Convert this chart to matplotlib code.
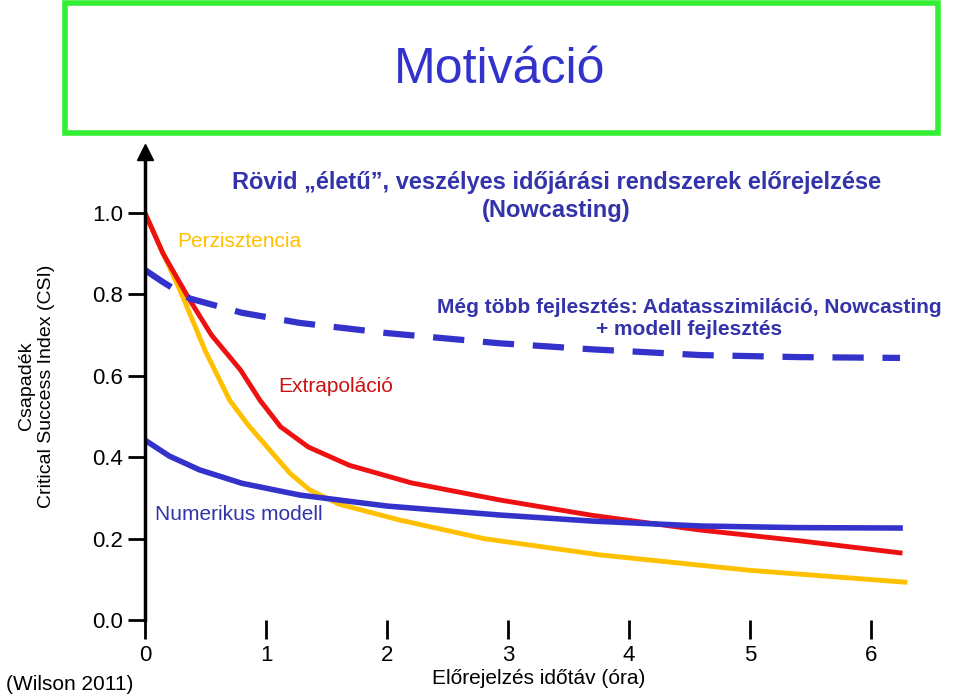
import matplotlib.pyplot as plt
from matplotlib.patches import Rectangle

plt.rcParams['font.family'] = 'Liberation Sans'

red_x = [0, 0.15, 0.37, 0.55, 0.79, 0.95, 1.12, 1.35, 1.69, 2.2, 2.93, 3.7, 4.59, 5.4, 6.24]
red_y = [1.0, 0.9, 0.786, 0.70, 0.614, 0.54, 0.475, 0.425, 0.38, 0.337, 0.295, 0.257, 0.221, 0.195, 0.165]
yel_x = [0, 0.12, 0.29, 0.5, 0.70, 0.85, 1.03, 1.2, 1.36, 1.6, 2.1, 2.8, 3.76, 5.0, 6.28]
yel_y = [1.0, 0.92, 0.81, 0.66, 0.54, 0.48, 0.418, 0.36, 0.32, 0.285, 0.246, 0.2, 0.16, 0.122, 0.093]
num_x = [0, 0.2, 0.45, 0.8, 1.28, 2.0, 2.93, 3.7, 4.59, 5.4, 6.24]
num_y = [0.442, 0.403, 0.369, 0.336, 0.307, 0.28, 0.258, 0.243, 0.231, 0.227, 0.226]
dash_x = [0, 0.15, 0.37, 0.8, 1.28, 2.0, 2.93, 3.7, 4.59, 5.4, 6.24]
dash_y = [0.86, 0.83, 0.79, 0.755, 0.73, 0.705, 0.68, 0.665, 0.651, 0.646, 0.644]
yticks = [0.0, 0.2, 0.4, 0.6, 0.8, 1.0]
xticks = [0, 1, 2, 3, 4, 5, 6]

fig = plt.figure(figsize=(9.6, 6.99), dpi=100)
fig.patches.append(Rectangle((65/960, 1-133/699), 873/960, 130/699, transform=fig.transFigure,
                             fill=False, edgecolor='#33ee33', lw=4))
fig.text(500/960, 1-70/699, 'Motiváció', color='#3333cc', fontsize=36, ha='center', va='center')

ax = fig.add_axes([145/960, 1-620/699, 6.5*121/960, 468/699])
ax.set_xlim(0, 6.5)
ax.set_ylim(0, 1.15)
for s in ['top', 'right', 'bottom']:
    ax.spines[s].set_visible(False)
ax.spines['left'].set_linewidth(2.5)
ax.plot(0, 1.15, '^', color='black', ms=12, clip_on=False)

ax.plot(yel_x, yel_y, color='#ffc000', lw=3.5, solid_joinstyle='round')
ax.plot(red_x, red_y, color='#ee1111', lw=3.5, solid_joinstyle='round')
ax.plot(num_x, num_y, color='#3333cc', lw=4, solid_joinstyle='round')
ax.plot(dash_x, dash_y, color='#3333cc', lw=4.5, dashes=(5, 3))

ax.set_yticks(yticks)
ax.set_yticklabels(['%.1f' % v for v in yticks], fontsize=16)
ax.set_xticks(xticks)
ax.set_xticklabels([str(v) for v in xticks], fontsize=16)
ax.tick_params(axis='y', length=12, width=2, direction='out')
ax.tick_params(axis='x', length=14, width=2, direction='out', pad=4)
ax.set_ylabel('Csapadék\nCritical Success Index (CSI)', fontsize=14)
ax.yaxis.set_label_coords(-0.115, 0.5)
ax.set_xlabel('Előrejelzés időtáv (óra)', fontsize=15, labelpad=2)

ax.text(3.4, 1.04, 'Rövid „életű”, veszélyes időjárási rendszerek előrejelzése\n(Nowcasting)',
        fontsize=17, color='#3333aa', fontweight='bold', ha='center', va='center', linespacing=1.3)
ax.text(0.27, 0.93, 'Perzisztencia', color='#ffc000', fontsize=15, va='center')
ax.text(1.1, 0.575, 'Extrapoláció', color='#cc1111', fontsize=15, va='center')
ax.text(0.08, 0.26, 'Numerikus modell', color='#3333aa', fontsize=15, va='center')
ax.text(4.5, 0.74, 'Még több fejlesztés: Adatasszimiláció, Nowcasting\n+ modell fejlesztés',
        color='#3333aa', fontsize=15, fontweight='bold', ha='center', va='center', linespacing=1.2)
fig.text(70/960, 1-684/699, '(Wilson 2011)', fontsize=15, ha='center', va='center')

fig.savefig('out.png')
